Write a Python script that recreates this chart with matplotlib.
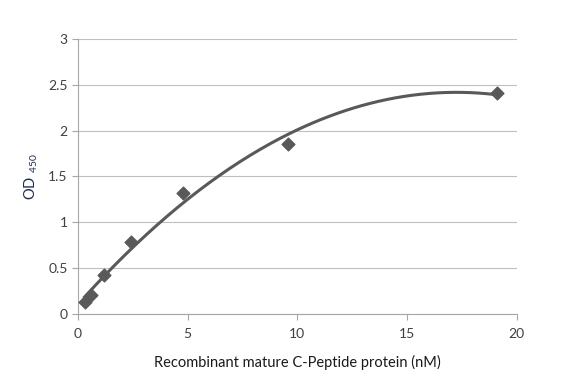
import numpy as np
import matplotlib.pyplot as plt

# data
conc_nM = [0.3, 0.6, 1.2, 2.4, 4.8, 9.55, 19.1]
od450 = [0.13, 0.21, 0.43, 0.78, 1.32, 1.85, 2.41]
x_ticks = [0, 5, 10, 15, 20]
y_ticks = [0, 0.5, 1, 1.5, 2, 2.5, 3]

plt.rcParams['font.family'] = ['Lato', 'DejaVu Sans']

fig = plt.figure(figsize=(5.82, 3.82), dpi=100)
ax = fig.add_axes([0.134, 0.178, 0.754, 0.72])

# polynomial (2nd order) trendline like Excel
coef = np.polyfit(conc_nM, od450, 2)
xs = np.linspace(min(conc_nM), max(conc_nM), 200)
ax.plot(xs, np.polyval(coef, xs), color='#595959', lw=2.2, zorder=2)
ax.scatter(conc_nM, od450, marker='D', s=42, color='#595959', zorder=3)

ax.set_xlim(0, 20)
ax.set_ylim(0, 3)
ax.set_xticks(x_ticks)
ax.set_yticks(y_ticks)
ax.set_yticklabels([f'{v:g}' for v in y_ticks])
ax.grid(axis='y', color='#bfbfbf', lw=0.8)
ax.set_axisbelow(True)
for side in ['top', 'right']:
    ax.spines[side].set_visible(False)
for side in ['left', 'bottom']:
    ax.spines[side].set_color('#a6a6a6')
ax.tick_params(colors='#a6a6a6', labelcolor='#404040', labelsize=10, length=4)
ax.tick_params(axis='x', pad=6)

ax.set_xlabel('Recombinant mature C-Peptide protein (nM)', fontsize=10.5,
              color='#1a1a1a', labelpad=11)
ax.set_ylabel(r'OD$\ _{\mathregular{450}}$', fontsize=10.5, color='#1f2d4d', labelpad=6)

fig.savefig('out.png', dpi=100)
